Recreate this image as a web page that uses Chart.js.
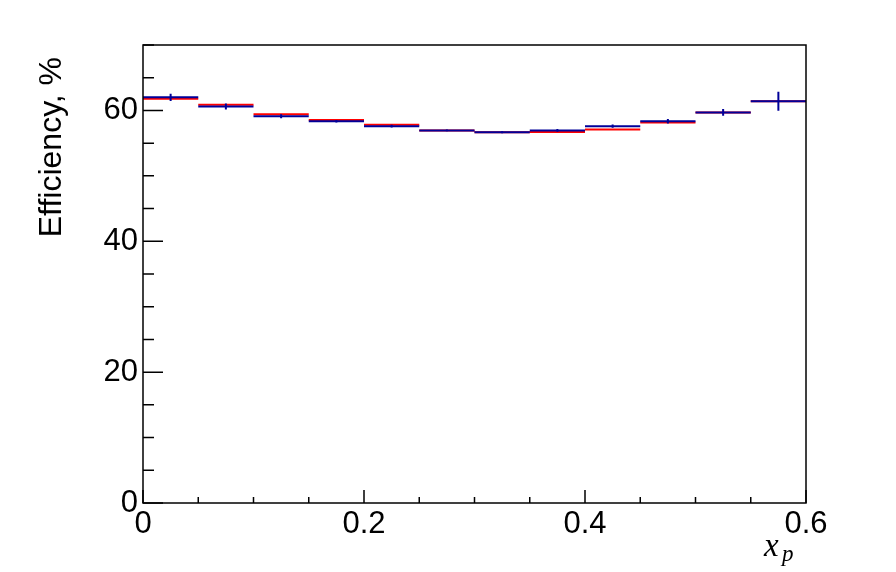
<!DOCTYPE html>
<html>
<head>
<meta charset="utf-8">
<script src="https://cdn.jsdelivr.net/npm/chart.js@4"></script>
<style>
  html, body { margin: 0; padding: 0; background: #fff; }
  canvas { display: block; }
</style>
</head>
<body>
<canvas id="c" width="896" height="572"></canvas>
<script>
// bin edges in x_p
const binEdges = [0, 0.05, 0.1, 0.15, 0.2, 0.25, 0.3, 0.35, 0.4, 0.45, 0.5, 0.55, 0.6]

// efficiency, %
const blueEff = [62.0, 60.6, 59.1, 58.35, 57.6, 56.95, 56.65, 56.95, 57.6, 58.35, 59.7, 61.4]
const blueErr = [0.55, 0.45, 0.3, 0.2, 0.2, 0.15, 0.15, 0.2, 0.25, 0.35, 0.5, 1.45]
const redEff  = [61.8, 60.85, 59.4, 58.55, 57.8, 56.95, 56.65, 56.7, 57.1, 58.15, 59.7, 61.4]

const xTickLabels = [0, 0.2, 0.4, 0.6]
const yTickLabels = [0, 20, 40, 60]

const FONT = '"Liberation Sans", Arial, Helvetica, sans-serif'
const SERIF = '"Liberation Serif", "Times New Roman", serif'

// horizontal bin segments, broken between bins
function binSegments(vals) {
  const pts = []
  vals.forEach((v, i) => {
    pts.push({ x: binEdges[i], y: v })
    pts.push({ x: binEdges[i + 1], y: v })
    pts.push({ x: binEdges[i + 1], y: null })
  })
  return pts
}

// vertical error bars at bin centres
function errSegments(vals, errs) {
  const pts = []
  vals.forEach((v, i) => {
    const c = (binEdges[i] + binEdges[i + 1]) / 2
    pts.push({ x: c, y: v - errs[i] })
    pts.push({ x: c, y: v + errs[i] })
    pts.push({ x: c, y: null })
  })
  return pts
}

// ROOT-like frame, inward ticks and axis titles
const frameAndTitles = {
  id: 'frameAndTitles',
  afterDraw(chart) {
    const ctx = chart.ctx
    const a = chart.chartArea
    const xs = chart.scales.x
    const ys = chart.scales.y
    ctx.save()
    ctx.strokeStyle = '#000'
    ctx.lineWidth = 1.5
    ctx.strokeRect(a.left, a.top, a.right - a.left, a.bottom - a.top)

    ctx.beginPath()
    for (let i = 0; i <= 14; i++) {
      const py = ys.getPixelForValue(i * 5)
      const len = i % 4 === 0 ? 20 : 11
      ctx.moveTo(a.left, py)
      ctx.lineTo(a.left + len, py)
    }
    for (let i = 0; i <= 12; i++) {
      const px = xs.getPixelForValue(i * 0.05)
      const len = i % 4 === 0 ? 13 : 6
      ctx.moveTo(px, a.bottom)
      ctx.lineTo(px, a.bottom - len)
    }
    ctx.stroke()

    // y title
    ctx.fillStyle = '#000'
    ctx.font = '32px ' + FONT
    ctx.translate(61, 57)
    ctx.rotate(-Math.PI / 2)
    ctx.textAlign = 'right'
    ctx.textBaseline = 'alphabetic'
    ctx.fillText('Efficiency, %', 0, 0)
    ctx.setTransform(1, 0, 0, 1, 0, 0)

    // x title: x_p
    ctx.textAlign = 'left'
    ctx.font = 'italic 33px ' + SERIF
    ctx.fillText('x', 764, 556)
    ctx.font = 'italic 23px ' + SERIF
    ctx.fillText('p', 782, 561)
    ctx.restore()
  }
}

new Chart(document.getElementById('c').getContext('2d'), {
  type: 'line',
  data: {
    datasets: [
      {
        label: 'blue',
        data: binSegments(blueEff),
        borderColor: '#000099',
        borderWidth: 2,
        pointRadius: 0,
        spanGaps: false,
        order: 0
      },
      {
        label: 'blue errors',
        data: errSegments(blueEff, blueErr),
        borderColor: '#000099',
        borderWidth: 2,
        pointRadius: 0,
        spanGaps: false,
        order: 0
      },
      {
        label: 'red',
        data: binSegments(redEff),
        borderColor: '#ff0000',
        borderWidth: 2,
        pointRadius: 0,
        spanGaps: false,
        order: 1
      }
    ]
  },
  options: {
    responsive: false,
    animation: false,
    events: [],
    layout: { padding: { left: 0, top: 45, right: 90, bottom: 0 } },
    plugins: { legend: { display: false }, tooltip: { enabled: false } },
    scales: {
      x: {
        type: 'linear',
        min: 0,
        max: 0.6,
        grid: { display: false, drawTicks: false },
        border: { display: false },
        afterFit: s => { s.height = 69 },
        afterBuildTicks: s => { s.ticks = xTickLabels.map(v => ({ value: v })) },
        ticks: {
          autoSkip: false,
          maxRotation: 0,
          padding: 3,
          color: '#000',
          font: { family: FONT, size: 31 },
          callback: v => String(v)
        }
      },
      y: {
        type: 'linear',
        min: 0,
        max: 70,
        grid: { display: false, drawTicks: false },
        border: { display: false },
        afterFit: s => { s.width = 143 },
        afterBuildTicks: s => { s.ticks = yTickLabels.map(v => ({ value: v })) },
        ticks: {
          autoSkip: false,
          padding: 5,
          color: '#000',
          font: { family: FONT, size: 31 },
          callback: v => String(v)
        }
      }
    }
  },
  plugins: [frameAndTitles]
})
</script>
</body>
</html>
